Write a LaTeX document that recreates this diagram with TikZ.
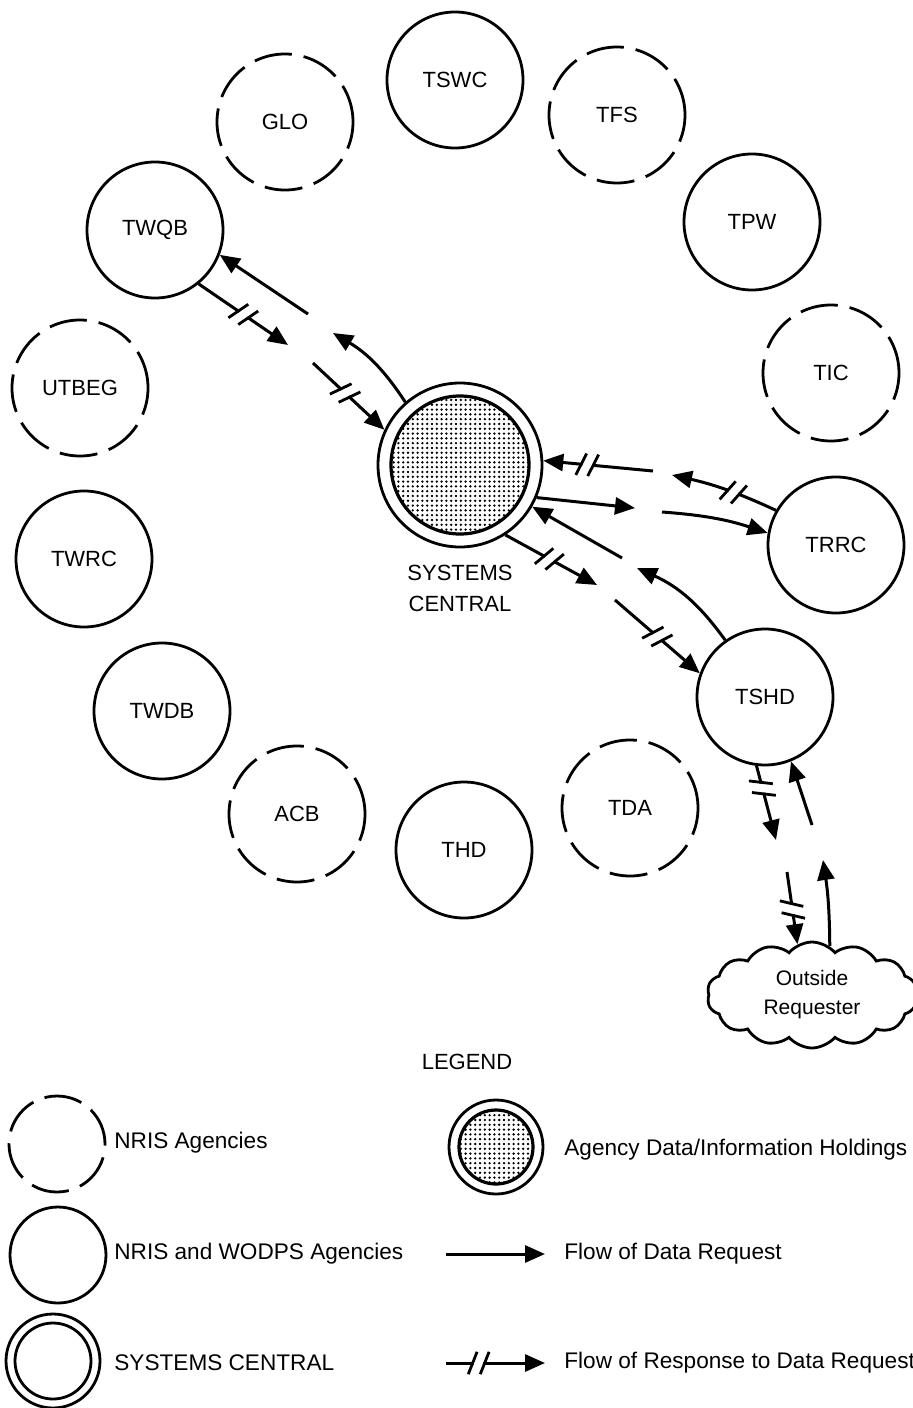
\documentclass[tikz,border=0pt]{standalone}
\usepackage{fontspec}
\setmainfont{Liberation Sans}
\usetikzlibrary{arrows.meta,decorations.markings,patterns.meta,shapes.symbols}

\tikzset{
    agency/.style={circle, draw, line width=1.4pt, minimum size=68pt, inner sep=0pt,
        font=\fontsize{11}{13}\selectfont},
    nris/.style={agency, dash pattern=on 19pt off 6pt},
    central/.style 2 args={circle, draw, line width=1.4pt, minimum size=#1, inner sep=0pt,
        path picture={\draw[line width=1.4pt] (path picture bounding box.center) circle (#2);}},
    holdings/.style 2 args={circle, draw, line width=1.4pt, minimum size=#1, inner sep=0pt,
        path picture={\filldraw[line width=1.6pt, pattern={Dots[distance=2.4pt,radius=.65pt]}]
            (path picture bounding box.center) circle (#2);}},
    flow/.style={line width=1.5pt},
    response/.style={postaction={decorate}, decoration={markings, mark=at position #1 with {
        \fill[white] (-2.4pt,-1.4pt) rectangle (2.4pt,1.4pt);
        \draw[-, line width=1.4pt] (-5.2pt,-5.6pt) -- (-0.8pt,5.6pt);
        \draw[-, line width=1.4pt] (0.8pt,-5.6pt) -- (5.2pt,5.6pt);}}},
    response/.default=0.5,
    legendtext/.style={anchor=west, inner sep=0pt, font=\fontsize{11.3}{13}\selectfont},
}

\begin{document}
\begin{tikzpicture}[x=0.5pt, y=-0.5pt, >={Triangle[length=10pt,width=8.5pt]}]
    \useasboundingbox (0,0) rectangle (913,1408);

    % Agencies round Systems Central
    \node [agency] (tswc)  at (455,80)  {TSWC};
    \node [nris]   (glo)   at (285,122) {GLO};
    \node [nris]   (tfs)   at (617,115) {TFS};
    \node [agency] (tpw)   at (752,222) {TPW};
    \node [agency] (twqb)  at (155,230) {TWQB};
    \node [nris]   (utbeg) at (80,388)  {UTBEG};
    \node [nris]   (tic)   at (831,373) {TIC};
    \node [agency] (twrc)  at (84,559)  {TWRC};
    \node [agency] (trrc)  at (836,545) {TRRC};
    \node [agency] (tshd)  at (765,697) {TSHD};
    \node [agency] (twdb)  at (162,711) {TWDB};
    \node [nris]   (acb)   at (297,814) {ACB};
    \node [nris]   (tda)   at (630,808) {TDA};
    \node [agency] (thd)   at (464,850) {THD};

    % Systems Central
    \node [holdings={82pt}{34.5pt}] (sc) at (460,465) {};
    \node [align=center, font=\fontsize{11}{15.5}\selectfont] (sclabel) at (460,588) {SYSTEMS\\CENTRAL};

    % Outside requester
    \node [cloud, draw, line width=1.4pt, cloud puffs=14, cloud puff arc=100, cloud ignores aspect,
        minimum width=105pt, minimum height=53pt, align=center,
        font=\fontsize{10.5}{14.5}\selectfont] (out) at (812,995) {Outside\\Requester};

    % Break points of the flows
    \coordinate (qb1) at (333,333);
    \coordinate (qb2) at (308,314);
    \coordinate (qb3) at (288,345);
    \coordinate (qb4) at (313,363);
    \coordinate (rr1) at (672,475);
    \coordinate (rr2) at (653,471);
    \coordinate (rr3) at (635,508);
    \coordinate (rr4) at (662,512);
    \coordinate (sh1) at (637,568);
    \coordinate (sh2) at (622,558);
    \coordinate (sh3) at (597,585);
    \coordinate (sh4) at (615,600);
    \coordinate (or1) at (776,840);
    \coordinate (or2) at (787,872);
    \coordinate (or3) at (823,860);
    \coordinate (or4) at (812,825);

    % Paths
    \path [->, flow] (sc.131)   edge [bend right=13]   (qb1);
    \path [->, flow] (qb2)      edge                   (twqb.-21);
    \path [->, flow] (twqb.-51) edge [response]        (qb3);
    \path [->, flow] (qb4)      edge [response=0.45]   (sc.155);

    \path [->, flow] (trrc.150) edge [bend right=6, response=0.42] (rr1);
    \path [->, flow] (rr2)      edge [response=0.6]    (sc.3);
    \path [->, flow] (sc.-23)   edge                   (rr3);
    \path [->, flow] (rr4)      edge [bend left=7]     (trrc.170);

    \path [->, flow] (tshd.125) edge [bend right=15]   (sh1);
    \path [->, flow] (sh2)      edge                   (sc.-30);
    \path [->, flow] (sc.-57)   edge [response=0.48]   (sh3);
    \path [->, flow] (sh4)      edge [response]        (tshd.160);

    \path [->, flow] (tshd.-97) edge [response=0.3]    (or1);
    \path [->, flow] (or2)      edge [response=0.52]   (out.106);
    \path [->, flow] (out.70)   edge [bend right=4]    (or3);
    \path [->, flow] (or4)      edge                   (tshd.-68);

    % Legend
    \node [font=\fontsize{11}{13}\selectfont] (legend) at (467,1062) {LEGEND};

    \node [nris, minimum size=48pt] (lgnris) at (57,1144) {};
    \node [legendtext] (lgnristxt) at (114,1143) {NRIS Agencies};
    \node [agency, minimum size=48pt] (lgwodps) at (58,1255) {};
    \node [legendtext] (lgwodpstxt) at (114,1254) {NRIS and WODPS Agencies};
    \node [central={47pt}{19pt}] (lgsc) at (53,1361) {};
    \node [legendtext] (lgsctxt) at (114,1363) {SYSTEMS CENTRAL};

    \node [holdings={47pt}{18.5pt}] (lghold) at (496,1147) {};
    \node [legendtext] (lgholdtxt) at (564,1150) {Agency Data/Information Holdings};

    \coordinate (lgrq1) at (446,1254);
    \coordinate (lgrq2) at (545,1254);
    \path [->, flow] (lgrq1) edge (lgrq2);
    \node [legendtext] (lgrqtxt) at (564,1254) {Flow of Data Request};

    \coordinate (lgrs1) at (446,1363);
    \coordinate (lgrs2) at (545,1363);
    \path [->, flow] (lgrs1) edge [response=0.33] (lgrs2);
    \node [legendtext] (lgrstxt) at (564,1363) {Flow of Response to Data Request};

\end{tikzpicture}
\end{document}
